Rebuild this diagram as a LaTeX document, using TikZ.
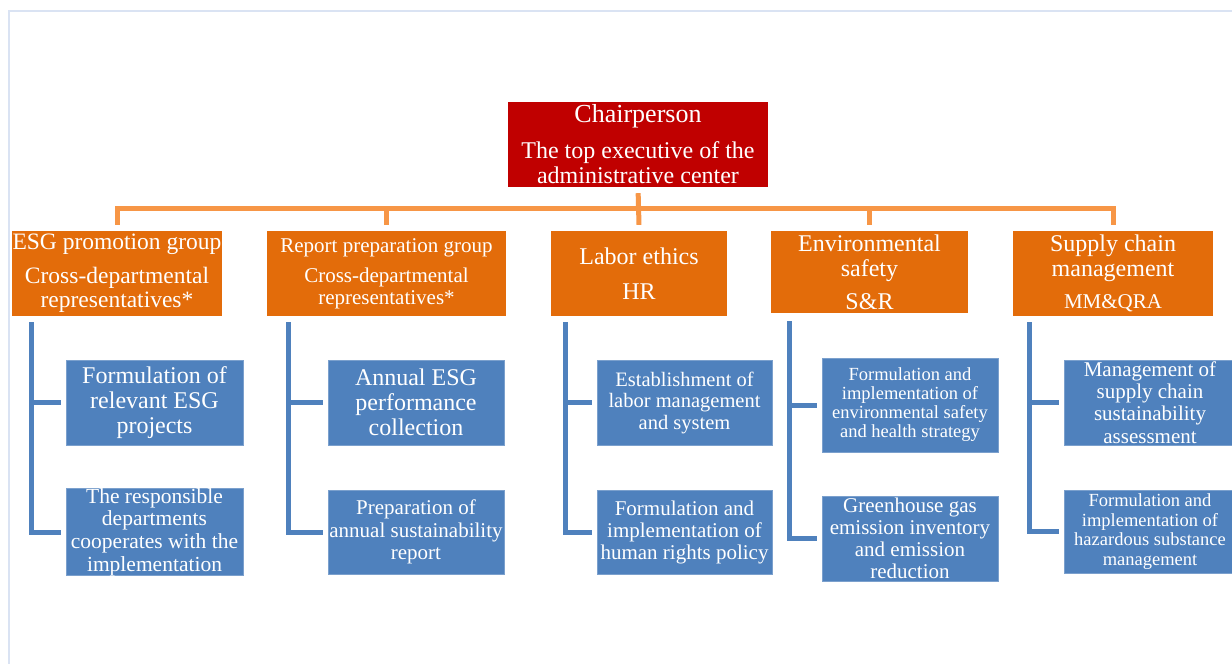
\documentclass[tikz,border=0pt]{standalone}
\usepackage{fontspec}
\setmainfont{Liberation Serif}
\definecolor{chairred}{RGB}{192,0,0}
\definecolor{grporange}{RGB}{227,108,10}
\definecolor{lineorange}{RGB}{247,150,70}
\definecolor{taskblue}{RGB}{79,129,189}
\definecolor{framecol}{RGB}{218,227,243}
\newcommand{\setfz}[2]{\fontsize{#1}{#2}\selectfont}
\begin{document}
\begin{tikzpicture}[x=1pt,y=-1pt,
  box/.style={inner sep=0pt, align=center, text=white},
  redbox/.style={box, fill=chairred},
  orgbox/.style={box, fill=grporange, minimum height=85pt},
  bluebox/.style={box, fill=taskblue, draw=taskblue!75!white, line width=0.8pt},
  oline/.style={draw=lineorange, line width=5pt},
  bline/.style={draw=taskblue, line width=5pt}]
\useasboundingbox (0,0) rectangle (1232,664);
\fill[white] (0,0) rectangle (1232,664);
\coordinate (fa) at (9,664);
\coordinate (fb) at (9,11);
\coordinate (fc) at (1232,11);
\draw[framecol, line width=1.6pt] (fa) -- (fb) -- (fc);

% chair
\node[redbox, minimum width=260pt, minimum height=85pt, font=\setfz{24}{25}] (chair) at (638,144.5)
  {{\setfz{26}{26}Chairperson}\\[11pt]The top executive of the\\administrative center};

% groups
\node[orgbox, minimum width=210pt, font=\setfz{23.5}{24}] (esg) at (117,273.5)
  {ESG promotion group\\[10pt]Cross-departmental\\representatives*};
\node[orgbox, minimum width=239pt, font=\setfz{21}{22}] (rep) at (386.5,273.5)
  {Report preparation group\\[8pt]Cross-departmental\\representatives*};
\node[orgbox, minimum width=176pt, font=\setfz{24}{25}] (lab) at (639,273.5)
  {Labor ethics\\[10pt]HR};
\node[orgbox, minimum width=197pt, minimum height=82pt, font=\setfz{24}{25}] (env) at (869.5,272)
  {Environmental\\safety\\[8pt]S\&R};
\node[orgbox, minimum width=200pt, font=\setfz{24}{25}] (sup) at (1113,273.5)
  {Supply chain\\management\\[7pt]{\setfz{21}{22}MM\&QRA}};

% tasks
\node[bluebox, minimum width=177pt, minimum height=85pt, font=\setfz{24}{25}] (b11) at (154.5,402.5)
  {Formulation of\\relevant ESG\\projects};
\node[bluebox, minimum width=177pt, minimum height=86pt, font=\setfz{21.5}{22.7}] (b12) at (154.5,532)
  {The responsible\\departments\\cooperates with the\\implementation};
\node[bluebox, minimum width=176pt, minimum height=85pt, font=\setfz{24}{25}] (b21) at (416,402.5)
  {Annual ESG\\performance\\collection};
\node[bluebox, minimum width=176pt, minimum height=84pt, font=\setfz{21}{22.5}] (b22) at (416,532)
  {Preparation of\\annual sustainability\\report};
\node[bluebox, minimum width=175pt, minimum height=85pt, font=\setfz{20.5}{21.5}] (b31) at (684.5,402.5)
  {Establishment of\\labor management\\and system};
\node[bluebox, minimum width=175pt, minimum height=84pt, font=\setfz{21}{22}] (b32) at (684.5,532)
  {Formulation and\\implementation of\\human rights policy};
\node[bluebox, minimum width=176pt, minimum height=94pt, font=\setfz{18.5}{19}] (b41) at (910,405)
  {Formulation and\\implementation of\\environmental safety\\and health strategy};
\node[bluebox, minimum width=176pt, minimum height=85pt, font=\setfz{21}{22}] (b42) at (910,538.5)
  {Greenhouse gas\\emission inventory\\and emission\\reduction};
\node[bluebox, minimum width=172pt, minimum height=85pt, font=\setfz{21}{22.4}] (b51) at (1150,402.5)
  {Management of\\supply chain\\sustainability\\assessment};
\node[bluebox, minimum width=172pt, minimum height=83pt, font=\setfz{18.5}{19.4}] (b52) at (1150,531.5)
  {Formulation and\\implementation of\\hazardous substance\\management};

% orange connectors
\coordinate (bus) at (0,208);
\draw[oline] ([yshift=6pt]esg.north) -- (esg.north |- bus) -- (sup.north |- bus) -- ([yshift=6pt]sup.north);
\draw[oline, shorten <=6pt] (chair.south) -- ([yshift=6pt]lab.north);
\draw[oline] ([yshift=6pt]rep.north) -- (rep.north |- bus);
\draw[oline] ([yshift=6pt]env.north) -- (env.north |- bus);

% blue connectors
\coordinate (t1) at (31,322);
\coordinate (t2) at (288,322);
\coordinate (t3) at (565,322);
\coordinate (t4) at (789,321);
\coordinate (t5) at (1029,322);
\foreach \c in {1,...,5}{
  \draw[bline, shorten >=5pt] (t\c) |- (b\c2.west);
  \draw[bline, shorten >=5pt] (t\c |- b\c1.west) -- (b\c1.west);
}
\end{tikzpicture}
\end{document}
